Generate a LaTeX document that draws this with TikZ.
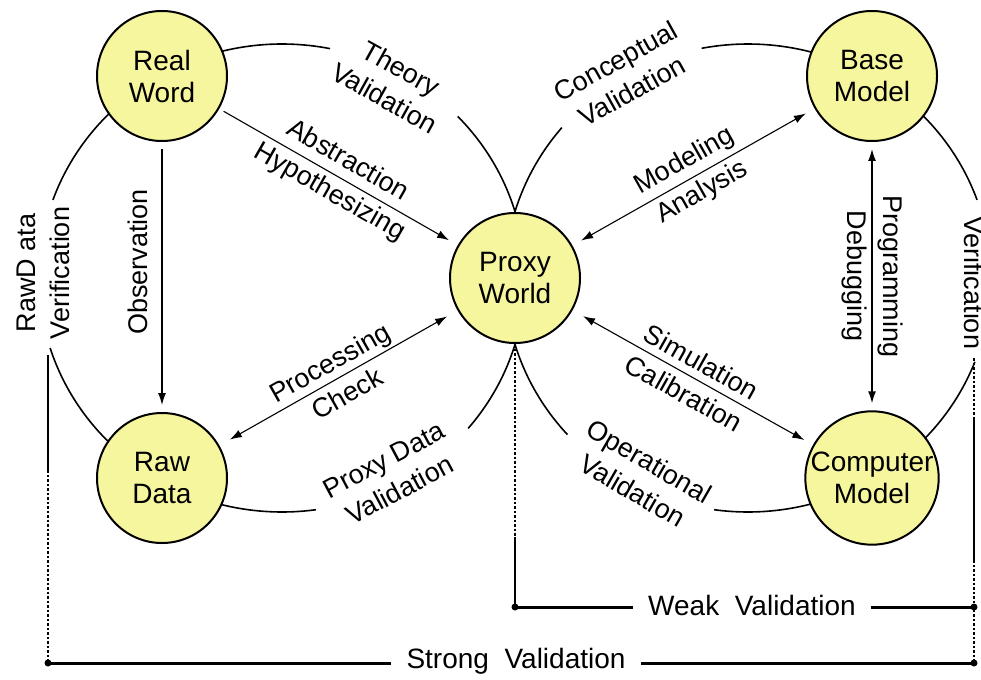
\documentclass[tikz,border=0pt]{standalone}
\usepackage{fontspec}
\setmainfont{Liberation Sans}
\usetikzlibrary{arrows.meta}
\definecolor{nodeyellow}{RGB}{246,246,158}

\begin{document}
\begin{tikzpicture}[x=1pt, y=-1pt,
  phase/.style={circle, draw=black, line width=2pt, fill=nodeyellow,
    minimum size=130pt, inner sep=0pt, align=center,
    font=\fontsize{28}{32}\selectfont},
  lbl/.style={align=center, inner sep=0pt,
    font=\fontsize{27}{36}\selectfont},
  arclbl/.style={align=center, inner sep=0pt,
    font=\fontsize{27}{34}\selectfont},
  loopline/.style={line width=1.6pt},
  link/.style={line width=1.2pt, -{Latex[length=12pt,width=8pt]}},
  duplex/.style={line width=1.1pt,
    {Latex[length=12pt,width=8pt]}-{Latex[length=12pt,width=8pt]}},
  solidrule/.style={line width=1.8pt},
  dotrule/.style={line width=1.6pt, dash pattern=on 2.5pt off 2pt},
  barline/.style={line width=3pt},
  enddot/.style={circle, fill=black, inner sep=0pt, minimum size=7pt},
  barlbl/.style={inner sep=0pt, inner xsep=15pt,
    font=\fontsize{28}{32}\selectfont},
]
\useasboundingbox (0,0) rectangle (981,679);

% centres of the two validation loops
\coordinate (L) at (282,278);
\coordinate (R) at (748,278);

% left loop, broken where its labels sit
\draw[loopline, shift={(L)}] plot[domain=199.5:281.4, samples=80]
  ({243*cos(\x)},{234*sin(\x)});
\draw[loopline, shift={(L)}] plot[domain=-43.7:40, samples=80]
  ({243*cos(\x)},{234*sin(\x)});
\draw[loopline, shift={(L)}] plot[domain=82:162.6, samples=80]
  ({243*cos(\x)},{234*sin(\x)});
% right loop
\draw[loopline, shift={(R)}] plot[domain=259:340.5, samples=80]
  ({243*cos(\x)},{234*sin(\x)});
\draw[loopline, shift={(R)}] plot[domain=138:220, samples=80]
  ({243*cos(\x)},{234*sin(\x)});
\draw[loopline, shift={(R)}] plot[domain=21:98, samples=80]
  ({243*cos(\x)},{234*sin(\x)});

% the five worlds and models
\node[phase] (real)  at (162,76)  {Real\\Word};
\node[phase] (base)  at (872,76)  {Base\\Model};
\node[phase] (proxy) at (515,278) {Proxy\\World};
\node[phase] (raw)   at (162,478) {Raw\\Data};
\node[phase] (comp)  at (872,478) {Computer\\Model};

% loop labels
\node[arclbl, rotate=-29] (theory) at (393,83) {Theory\\Validation};
\node[arclbl, rotate=29] (concept) at (624,76) {Conceptual\\Validation};
\node[arclbl, rotate=28] (pdv) at (392,475) {Proxy Data\\Validation};
\node[arclbl, rotate=-30] (opv) at (641,476) {Operational\\Validation};
\node[arclbl, rotate=90] (rdv) at (43,273) {RawD ata\\Verification};
\node[arclbl, rotate=-90] (ver) at (974,283) {Verification};

% transformations between the worlds
\draw[link, shorten <=7pt, shorten >=7pt] (real) -- (raw);
\node[lbl, rotate=90] (obs) at (138,262) {Observation};
\draw[link, line width=1.1pt, shorten <=5pt, shorten >=10pt] (real) --
  node[lbl, sloped] (abs) {Abstraction\\Hypothesizing} (proxy);
\draw[duplex, shorten <=10pt, shorten >=10pt] (proxy) --
  node[lbl, sloped] (mod) {Modeling\\Analysis} (base);
\draw[duplex, shorten <=12pt, shorten >=12pt] (raw) --
  node[lbl, sloped] (proc) {Processing\\Check} (proxy);
\draw[duplex, shorten <=12pt, shorten >=10pt] (proxy) --
  node[lbl, sloped] (sim) {Simulation\\Calibration} (comp);
\draw[duplex, line width=1.4pt, shorten <=7pt, shorten >=7pt] (base) --
  node[lbl, sloped] (prog) {Programming\\Debugging} (comp);

% scope brackets for weak and strong validation
\coordinate (lvtop) at (48,355);
\coordinate (lvmid) at (48,470);
\coordinate (sl) at (48,663);
\coordinate (pvmid) at (515,537);
\coordinate (wl) at (515,607);
\coordinate (rvtop) at (974,358);
\coordinate (rva) at (974,418);
\coordinate (rvb) at (974,560);
\coordinate (wr) at (974,607);
\coordinate (sr) at (974,663);

\draw[solidrule] (lvtop) -- (lvmid);
\draw[dotrule] (lvmid) -- (sl);
\draw[dotrule] (proxy.south) -- (pvmid);
\draw[solidrule] (pvmid) -- (wl);
\draw[dotrule] (rvtop) -- (rva);
\draw[solidrule] (rva) -- (rvb);
\draw[dotrule] (rvb) -- (sr);

\node[barlbl] (weak) at (752,605) {Weak\ \ Validation};
\node[barlbl] (strong) at (516,661) {Strong\ \ Validation};
\draw[barline] (wl) -- (weak.west |- wl);
\draw[barline] (weak.east |- wr) -- (wr);
\draw[barline] (sl) -- (strong.west |- sl);
\draw[barline] (strong.east |- sr) -- (sr);

\node[enddot] (d1) at (wl) {};
\node[enddot] (d2) at (wr) {};
\node[enddot] (d3) at (sl) {};
\node[enddot] (d4) at (sr) {};
\end{tikzpicture}
\end{document}
